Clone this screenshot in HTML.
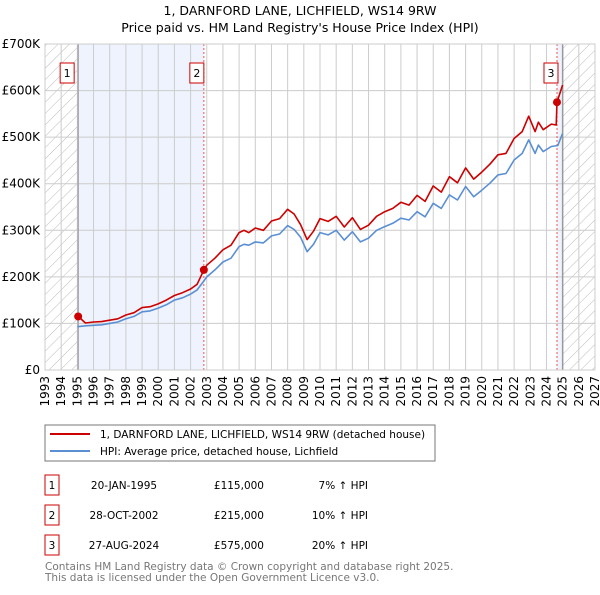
<!DOCTYPE html>
<html><head><meta charset="utf-8"><style>
body{margin:0;background:#fff;font-family:"Liberation Sans","DejaVu Sans",sans-serif;}
svg text{font-family:"DejaVu Sans","Liberation Sans",sans-serif;}
</style></head><body>
<svg id="c" width="600" height="590" xmlns="http://www.w3.org/2000/svg">
<defs><pattern id="hatch" width="8" height="8" patternUnits="userSpaceOnUse" patternTransform="rotate(45)"><line x1="0" y1="0" x2="0" y2="8" stroke="#bbb" stroke-width="1"/></pattern></defs>
<text x="300" y="15" text-anchor="middle" font-size="12.5">1, DARNFORD LANE, LICHFIELD, WS14 9RW</text>
<text x="300" y="32" text-anchor="middle" font-size="12.5">Price paid vs. HM Land Registry's House Price Index (HPI)</text>
<g id="plot"></g>
<g>
<rect x="45" y="425" width="390" height="36" fill="#fff" stroke="#777"/>
<line x1="50" y1="434" x2="90" y2="434" stroke="#cc0000" stroke-width="2"/>
<text x="100" y="438" font-size="10.5">1, DARNFORD LANE, LICHFIELD, WS14 9RW (detached house)</text>
<line x1="50" y1="451" x2="90" y2="451" stroke="#5b8fd4" stroke-width="2"/>
<text x="100" y="455" font-size="10.5">HPI: Average price, detached house, Lichfield</text>
</g>
<g id="table" font-size="10.5"></g>
<text x="45" y="570" font-size="10.5" fill="#777">Contains HM Land Registry data © Crown copyright and database right 2025.</text>
<text x="45" y="581" font-size="10.5" fill="#777">This data is licensed under the Open Government Licence v3.0.</text>
</svg>
<script>
const hpiYears=[1995.0,1995.5,1996,1996.5,1997,1997.5,1998,1998.5,1999,1999.5,2000,2000.5,2001,2001.5,2002,2002.4,2002.8,2003,2003.5,2004,2004.5,2005,2005.3,2005.6,2006,2006.5,2007,2007.5,2008,2008.4,2008.8,2009.2,2009.6,2010,2010.5,2011,2011.5,2012,2012.5,2013,2013.5,2014,2014.5,2015,2015.5,2016,2016.5,2017,2017.5,2018,2018.5,2019,2019.5,2020,2020.5,2021,2021.5,2022,2022.5,2022.9,2023.3,2023.5,2023.8,2024.3,2024.7,2025.0];
const hpiValues=[93,95,96,97,100,103,110,115,125,127,133,140,150,155,163,172,190,200,215,232,240,265,270,268,275,273,288,292,310,302,285,254,270,295,290,300,279,297,275,283,300,308,315,326,322,340,329,358,347,376,365,394,372,386,401,419,422,451,465,494,465,483,469,480,482,508];
const priceYears=[1995.05,1995.5,1996,1996.5,1997,1997.5,1998,1998.5,1999,1999.5,2000,2000.5,2001,2001.5,2002,2002.4,2002.82,2003,2003.5,2004,2004.5,2005,2005.3,2005.6,2006,2006.5,2007,2007.5,2008,2008.4,2008.8,2009.2,2009.6,2010,2010.5,2011,2011.5,2012,2012.5,2013,2013.5,2014,2014.5,2015,2015.5,2016,2016.5,2017,2017.5,2018,2018.5,2019,2019.5,2020,2020.5,2021,2021.5,2022,2022.5,2022.9,2023.3,2023.5,2023.8,2024.3,2024.6,2024.65,2025.0];
const priceValues=[115,101,103,104,107,110,118,123,134,136,142,150,160,166,174,184,215,225,240,258,268,295,300,295,305,300,320,325,345,335,312,280,298,325,319,330,307,327,302,311,330,340,347,360,354,375,362,395,382,415,402,434,410,425,442,462,465,497,512,545,512,532,516,528,526,575,612];
const saleYears=[1995.05,2002.82,2024.65];
const saleValues=[115,215,575];
const saleLabels=["1","2","3"];
const saleDates=["20-JAN-1995","28-OCT-2002","27-AUG-2024"];
const salePrices=["£115,000","£215,000","£575,000"];
const saleDiffs=["7% ↑ HPI","10% ↑ HPI","20% ↑ HPI"];
const yTicks=[0,100,200,300,400,500,600,700];
const yTickLabels=["£0","£100K","£200K","£300K","£400K","£500K","£600K","£700K"];
const xTicks=[1993,1994,1995,1996,1997,1998,1999,2000,2001,2002,2003,2004,2005,2006,2007,2008,2009,2010,2011,2012,2013,2014,2015,2016,2017,2018,2019,2020,2021,2022,2023,2024,2025,2026,2027];

const X0=45,X1=595,Y0=370,Y1=44;
const xs=y=>X0+(y-1993)/(2027-1993)*(X1-X0);
const ys=v=>Y0-v/700*(Y0-Y1);
const NS="http://www.w3.org/2000/svg";
const plot=document.getElementById('plot');
function mk(tag,attrs,parent){const e=document.createElementNS(NS,tag);for(const k in attrs)e.setAttribute(k,attrs[k]);(parent||plot).appendChild(e);return e;}

let e;
e=mk('rect',{x:X0,y:Y1,width:X1-X0,height:Y0-Y1,fill:'#fff'});


e=mk('rect',{x:xs(saleYears[0]),y:Y1,width:xs(saleYears[1])-xs(saleYears[0]),height:Y0-Y1,fill:'#eef3fd'});


e=mk('rect',{x:xs(saleYears[2]),y:Y1,width:xs(2025)-xs(saleYears[2]),height:Y0-Y1,fill:'#eef3fd'});


e=mk('rect',{x:X0,y:Y1,width:xs(1995.05)-X0,height:Y0-Y1,fill:'url(#hatch)'});


e=mk('rect',{x:xs(2025),y:Y1,width:X1-xs(2025),height:Y0-Y1,fill:'url(#hatch)'});



xTicks.forEach((t,i)=>{
  e=mk('line',{x1:xs(t),x2:xs(t),y1:Y1,y2:Y0,stroke:'#ccc','stroke-width':1});
  
  
  e=mk('text',{x:0,y:0,'font-size':12,'text-anchor':'end',transform:`translate(${xs(t)+4},376) rotate(-90)`});
  e.textContent=t;
  
  
});
yTicks.forEach((t,i)=>{
  e=mk('line',{x1:X0,x2:X1,y1:ys(t),y2:ys(t),stroke:'#ccc','stroke-width':1});
  
  
  e=mk('text',{x:40,y:ys(t)+4,'font-size':12,'text-anchor':'end'});
  e.textContent=yTickLabels[i];
  
  
});
e=mk('line',{x1:xs(1995.05),x2:xs(1995.05),y1:Y1,y2:Y0,stroke:'#999','stroke-width':1.2});


e=mk('line',{x1:xs(2025),x2:xs(2025),y1:Y1,y2:Y0,stroke:'#999','stroke-width':1.5});


[1,2].forEach(i=>{
  e=mk('line',{x1:xs(saleYears[i]),x2:xs(saleYears[i]),y1:Y1,y2:Y0,stroke:'#e55','stroke-width':1,'stroke-dasharray':'2,2'});
  
  
});

function path(xa,va,col,name){
  const d=xa.map((x,i)=>(i?'L':'M')+xs(x).toFixed(1)+','+ys(va[i]).toFixed(1)).join('');
  e=mk('path',{d:d,fill:'none',stroke:col,'stroke-width':1.6,'stroke-linejoin':'round'});
  
  
}
path(hpiYears,hpiValues,'#5b8fd4','hpi-line');
path(priceYears,priceValues,'#cc0000','price-paid-line');

saleYears.forEach((s,i)=>{
  e=mk('circle',{cx:xs(s),cy:ys(saleValues[i]),r:4,fill:'#cc0000'});
  
  
  const bx=xs(s)-(i==0?11:i==1?7:6);
  e=mk('rect',{x:bx-7,y:63,width:14,height:20,fill:'#fff',stroke:'#cc0000'});
  
  
  e=mk('text',{x:bx,y:77,'font-size':11,'text-anchor':'middle'});
  e.textContent=saleLabels[i];
  
  
});
e=mk('rect',{x:X0,y:Y1,width:X1-X0,height:Y0-Y1,fill:'none',stroke:'#ccc'});



const tbl=document.getElementById('table');
saleLabels.forEach((l,i)=>{
  const y=475+i*30;
  e=mk('rect',{x:45,y:y,width:14,height:20,fill:'#fff',stroke:'#cc0000'},tbl);
  
  
  e=mk('text',{x:52,y:y+14,'text-anchor':'middle'},tbl);e.textContent=l;
  
  
  e=mk('text',{x:124,y:y+14,'text-anchor':'middle'},tbl);e.textContent=saleDates[i];
  
  
  e=mk('text',{x:264,y:y+14,'text-anchor':'end'},tbl);e.textContent=salePrices[i];
  
  
  e=mk('text',{x:368,y:y+14,'text-anchor':'end'},tbl);e.textContent=saleDiffs[i];
  
  
});
</script>
</body></html>
